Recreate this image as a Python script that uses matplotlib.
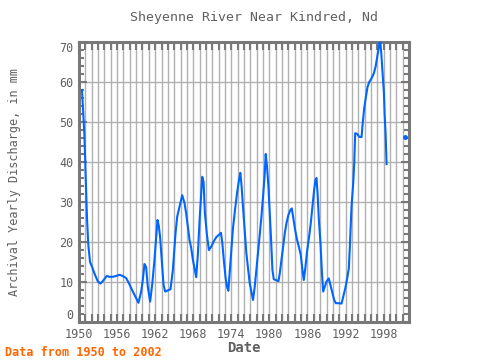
import numpy as np
import matplotlib
matplotlib.use("Agg")
import matplotlib.pyplot as plt
from matplotlib.ticker import MultipleLocator

# values (decimal year, mm)
years = [
    1950.47, 1950.84, 1951.11, 1951.26, 1951.47, 1951.74, 1952.05, 1952.42,
    1952.95, 1953.37, 1953.74, 1954.37, 1954.79, 1955.32, 1955.84, 1956.37,
    1956.89, 1957.42, 1957.84, 1958.21, 1958.74, 1959.37, 1959.79, 1960.05,
    1960.32, 1960.58, 1960.84, 1961.21, 1961.53, 1961.89, 1962.16, 1962.37,
    1962.58, 1962.79, 1963.05, 1963.32, 1963.58, 1964.42, 1964.79, 1965.21,
    1965.47, 1965.84, 1966.26, 1966.63, 1966.9, 1967.16, 1967.42, 1967.69,
    1967.95, 1968.21, 1968.47, 1968.74, 1969.0, 1969.26, 1969.42, 1969.63,
    1969.84, 1970.16, 1970.47, 1970.84, 1971.21, 1971.63, 1972.05, 1972.37,
    1972.58, 1972.84, 1973.11, 1973.32, 1973.53, 1973.74, 1974.0, 1974.26,
    1974.58, 1974.9, 1975.21, 1975.42, 1975.63, 1975.84, 1976.11, 1976.37,
    1976.63, 1976.9, 1977.21, 1977.42, 1977.69, 1977.95, 1978.21, 1978.48,
    1978.74, 1979.0, 1979.27, 1979.42, 1979.63, 1979.85, 1980.06, 1980.27,
    1980.48, 1980.69, 1981.11, 1981.43, 1981.64, 1981.9, 1982.16, 1982.43,
    1982.69, 1983.0, 1983.32, 1983.53, 1983.74, 1984.06, 1984.37, 1984.69,
    1984.94, 1985.21, 1985.42, 1985.68, 1985.94, 1986.26, 1986.52, 1986.79,
    1987.05, 1987.26, 1987.42, 1987.58, 1987.79, 1988.05, 1988.26, 1988.47,
    1988.73, 1989.0, 1989.36, 1989.68, 1989.94, 1990.21, 1990.47, 1991.0,
    1991.37, 1991.63, 1991.94, 1992.26, 1992.52, 1992.68, 1992.94, 1993.21,
    1993.37, 1993.52, 1993.84, 1994.15, 1994.52, 1994.68, 1994.94, 1995.21,
    1995.47, 1995.73, 1996.1, 1996.47, 1996.73, 1997.0, 1997.26, 1997.42,
    1997.63, 1997.84, 1998.05, 1998.15, 1998.31, 1998.47,
]
discharge = [
    58.0, 47.2, 33.5, 26.0, 19.2, 15.0, 13.8, 12.2,
    10.2, 9.6, 10.2, 11.5, 11.3, 11.3, 11.5, 11.8,
    11.5, 11.0, 9.8, 8.5, 6.8, 4.8, 7.6, 10.5,
    14.5, 13.7, 8.8, 5.1, 9.3, 15.5, 21.3, 25.5,
    24.0, 21.0, 15.1, 9.3, 7.6, 8.2, 13.0, 22.2,
    26.3, 28.8, 31.7, 29.7, 27.0, 23.8, 20.5, 18.4,
    15.5, 13.4, 11.2, 17.2, 25.5, 32.2, 36.3, 35.0,
    27.2, 21.8, 18.0, 18.8, 20.1, 21.2, 21.8, 22.3,
    19.8, 15.1, 10.9, 8.8, 7.8, 12.2, 17.6, 23.4,
    28.0, 32.2, 35.5, 37.3, 33.8, 28.8, 23.0, 17.2,
    13.4, 9.7, 7.2, 5.5, 8.8, 13.0, 17.2, 21.8,
    26.3, 31.3, 37.2, 42.0, 38.8, 33.8, 27.2, 20.5,
    13.0, 10.7, 10.4, 10.2, 12.2, 15.5, 18.8, 22.2,
    24.7, 26.8, 28.0, 28.4, 26.3, 23.0, 20.5, 18.5,
    16.8, 13.0, 10.5, 13.7, 17.7, 21.3, 24.7, 28.8,
    33.0, 35.5, 36.0, 32.5, 25.8, 19.7, 13.0, 7.6,
    8.8, 10.1, 10.9, 8.8, 7.2, 5.5, 4.7, 4.7,
    4.6, 6.3, 8.3, 10.9, 13.4, 18.8, 28.8, 34.7,
    39.7, 47.2, 47.0, 46.3, 46.2, 49.3, 53.4, 56.3,
    58.8, 60.0, 60.9, 62.2, 63.8, 66.3, 68.8, 71.0,
    67.2, 62.2, 57.2, 52.2, 47.2, 39.5,
]
# lone value after the gap
late_years = [2001.42]
late_discharge = [46.3]

x_ticks = [1950, 1956, 1962, 1968, 1974, 1980, 1986, 1992, 1998]
y_ticks = [0, 10, 20, 30, 40, 50, 60, 70]

text_gray = "#606060"
frame_gray = "#787878"
line_blue = "#0066ff"
mono = "DejaVu Sans Mono"

fig = plt.figure(figsize=(4.8, 3.6), dpi=100)
ax = fig.add_axes([79 / 480, 1 - 322 / 360, 330 / 480, 280 / 360])

ax.plot(years, discharge, color=line_blue, lw=1.5, zorder=3)
ax.plot(late_years, late_discharge, color=line_blue, marker="o", ms=2.5,
        ls="none", zorder=3)

ax.set_xlim(1950, 2002)
ax.set_ylim(0, 70)
ax.set_xticks(x_ticks)
ax.set_yticks(y_ticks)
ax.xaxis.set_minor_locator(MultipleLocator(1))
ax.yaxis.set_minor_locator(MultipleLocator(2))

ax.grid(True, which="both", axis="x", color="#b0b0b0", lw=1.0, zorder=1)
ax.grid(True, which="major", axis="y", color="#b0b0b0", lw=1.0, zorder=1)

for sp in ax.spines.values():
    sp.set_color(frame_gray)
    sp.set_linewidth(2.2)

ax.tick_params(axis="both", which="both", direction="in", color=frame_gray,
               width=1.5, top=True, right=True)
ax.tick_params(axis="x", which="both", length=6)
ax.tick_params(axis="y", which="major", length=6)
ax.tick_params(axis="y", which="minor", length=3.5)
ax.tick_params(axis="both", which="major", labelsize=8.5, labelcolor=text_gray,
               pad=4)

yt = ax.yaxis.get_major_ticks()
for t in ax.xaxis.get_major_ticks() + yt:
    t.label1.set_fontfamily(mono)
# end labels sit inside the axis range, as in the reference
yt[0].label1.set_verticalalignment("bottom")
yt[-1].label1.set_verticalalignment("top")

ax.set_xlabel("Date", fontsize=10, fontweight="bold", color=text_gray,
              family=mono)
ax.xaxis.set_label_coords(0.5, -(348 - 322) / 280, transform=ax.transAxes)
ax.xaxis.label.set_verticalalignment("center")
ax.set_ylabel("Archival Yearly Discharge, in mm", fontsize=8.5,
              color=text_gray, family=mono)
ax.yaxis.set_label_coords(-(79 - 15) / 330, 0.5)
ax.yaxis.label.set_verticalalignment("center")

fig.text(254 / 480, 1 - 18 / 360, "Sheyenne River Near Kindred, Nd",
         ha="center", va="center", fontsize=9.5, color=text_gray, family=mono)
fig.text(5 / 480, 1 - 352 / 360, "Data from 1950 to 2002", ha="left",
         va="center", fontsize=8.5, fontweight="bold", color="#ff6600",
         family=mono)

fig.savefig("out.png", dpi=100)
